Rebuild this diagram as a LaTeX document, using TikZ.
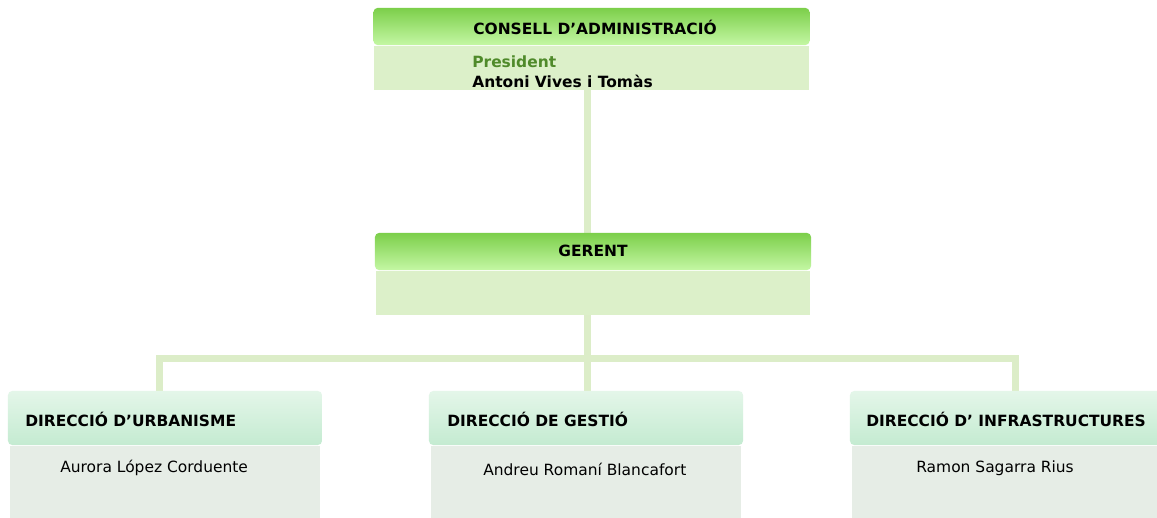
\documentclass[tikz,border=0pt]{standalone}
\usepackage{fontspec}
\setmainfont{DejaVu Sans}
\usetikzlibrary{positioning}
\definecolor{headtop}{HTML}{7CCF4A}
\definecolor{headbot}{HTML}{C4F7A4}
\definecolor{bodygreen}{HTML}{DCF0C9}
\definecolor{linegreen}{HTML}{DCEDC8}
\definecolor{minttop}{HTML}{E4F6E9}
\definecolor{mintbot}{HTML}{C4EBD1}
\definecolor{bodygrey}{HTML}{E6EDE6}
\definecolor{presgreen}{HTML}{4F8A2A}
\tikzstyle{bighead} = [rectangle, rounded corners=3pt, minimum width=10.9cm, minimum height=0.93cm, inner sep=0pt, top color=headtop, bottom color=headbot]
\tikzstyle{bigbody} = [rectangle, minimum width=10.85cm, minimum height=1.12cm, inner sep=0pt, fill=bodygreen]
\tikzstyle{dirhead} = [rectangle, rounded corners=3pt, minimum width=7.85cm, minimum height=1.35cm, inner sep=0pt, top color=minttop, bottom color=mintbot]
\tikzstyle{dirbody} = [rectangle, minimum width=7.75cm, minimum height=2cm, inner sep=0pt, fill=bodygrey]
\tikzstyle{title} = [inner sep=0pt, font=\bfseries\fontsize{11}{13}\selectfont]
\tikzstyle{person} = [inner sep=0pt, anchor=west, font=\fontsize{11}{13}\selectfont]
\tikzstyle{link} = [line width=0.175cm, draw=linegreen]

\begin{document}
\begin{tikzpicture}[x=0.025cm, y=-0.025cm]
    \clip (0,0) rectangle (1157,518);
    \fill[white] (0,0) rectangle (1157,518);

    % connectors first, boxes on top
    \coordinate (bus) at (587,358);
    \coordinate (topline) at (587,90);
    \coordinate (gerline) at (587,315);
    \draw[link] (topline) -- (587,236);
    \draw[link] (gerline) -- (bus);
    \draw[link] (159,395) |- (bus) -| (1015,395);
    \draw[link] (bus) -- (587,395);

    % consell
    \node (conhead) [bighead] at (591.5,26.5) {};
    \node (conbody) [bigbody, below=0pt of conhead] {};
    \node (contitle) [title] at (595,27) {CONSELL D’ADMINISTRACIÓ};
    \node (pres) [person, font=\bfseries\fontsize{11}{13}\selectfont, text=presgreen] at (472,62) {President};
    \node (presname) [person, font=\bfseries\fontsize{11}{13}\selectfont] at (472,81) {Antoni Vives i Tomàs};

    % gerent
    \node (gerhead) [bighead] at (593,251.5) {};
    \node (gerbody) [bigbody, below=0pt of gerhead] {};
    \node (gertitle) [title] at (593,251) {GERENT};

    % direccions
    \node (urbhead) [dirhead] at (165,418) {};
    \node (urbbody) [dirbody, below=0pt of urbhead] {};
    \node (urbtitle) [title, anchor=west] at (25,419) {DIRECCIÓ D’URBANISME};
    \node (urbname) [person] at (60,468) {Aurora López Corduente};

    \node (gesthead) [dirhead] at (586,418) {};
    \node (gestbody) [dirbody, below=0pt of gesthead] {};
    \node (gesttitle) [title, anchor=west] at (447,419) {DIRECCIÓ DE GESTIÓ};
    \node (gestname) [person] at (483,469) {Andreu Romaní Blancafort};

    \node (infhead) [dirhead] at (1007,418) {};
    \node (infbody) [dirbody, below=0pt of infhead] {};
    \node (inftitle) [title, anchor=west] at (866,419) {DIRECCIÓ D’ INFRASTRUCTURES};
    \node (infname) [person] at (916,468) {Ramon Sagarra Rius};
\end{tikzpicture}
\end{document}
